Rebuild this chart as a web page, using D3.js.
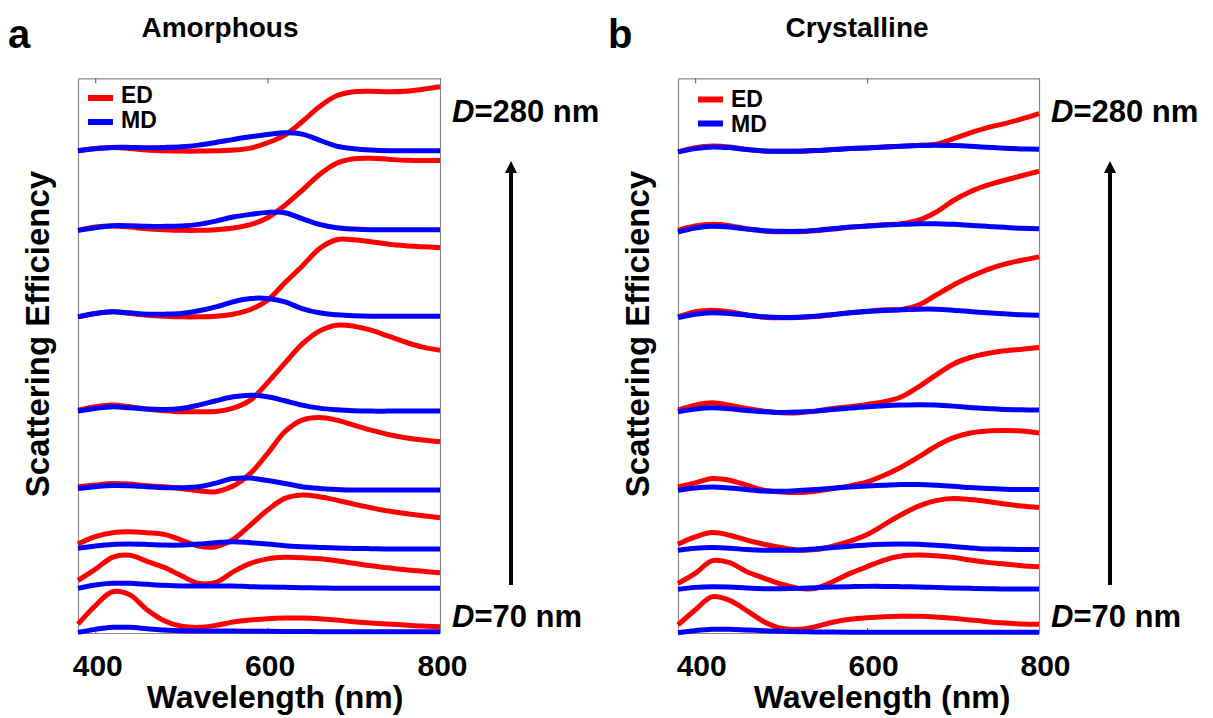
<!DOCTYPE html>
<html><head><meta charset="utf-8">
<script src="https://cdn.jsdelivr.net/npm/d3@7"></script>
<style>
body{margin:0;background:#fff}
svg{display:block}
text{font-family:"Liberation Sans",Arial,Helvetica,sans-serif;font-weight:bold;fill:#000}
</style>
</head><body>
<svg id="chart" width="1213" height="718"></svg>
<script>
// ---------- data ----------
const wavelengths = [380,400,420,440,460,480,500,520,540,560,580,600,620,640,660,680,700,720,740,760,780,800];
const diameters = [70,100,130,160,190,220,250,280];
const xTicks = [400,600,800];
const seriesNames = ["ED","MD"];

// vertical stacking offsets of each D (arbitrary efficiency units)
const offsetsAmorphous  = [0.026,0.894,1.68,2.86,4.44,6.34,8.07,9.65];
const offsetsCrystalline = [0.014,0.88,1.67,2.87,4.46,6.36,8.09,9.68];

// Amorphous, ED (relative to offset), one row per D
const edAmorphous = [
 [0.15,0.52,0.80,0.74,0.44,0.22,0.11,0.087,0.127,0.193,0.233,0.26,0.273,0.273,0.26,0.233,0.20,0.173,0.153,0.133,0.113,0.10],
 [0.16,0.38,0.62,0.66,0.54,0.42,0.25,0.10,0.12,0.33,0.50,0.59,0.62,0.613,0.59,0.55,0.50,0.45,0.41,0.37,0.34,0.31],
 [0.10,0.247,0.327,0.347,0.327,0.293,0.18,0.06,0.047,0.193,0.48,0.78,1.013,1.08,1.047,0.98,0.90,0.827,0.76,0.713,0.667,0.627],
 [0.067,0.10,0.133,0.12,0.087,0.067,0.033,-0.013,-0.033,0.08,0.333,0.733,1.167,1.40,1.453,1.40,1.30,1.20,1.113,1.047,1.00,0.967],
 [0.02,0.087,0.12,0.087,0.04,0.007,-0.013,-0.013,-0.007,0.06,0.22,0.57,0.96,1.34,1.60,1.72,1.70,1.62,1.50,1.38,1.28,1.22],
 [-0.013,0.053,0.087,0.053,0.02,0,-0.013,-0.013,0,0.04,0.133,0.32,0.667,1.0,1.35,1.53,1.53,1.49,1.44,1.41,1.39,1.37],
 [-0.013,0.053,0.073,0.053,0.02,0,-0.013,-0.013,0,0.033,0.10,0.24,0.487,0.787,1.10,1.33,1.42,1.43,1.41,1.39,1.387,1.387],
 [0,0.047,0.067,0.047,0.013,0,-0.007,-0.007,0,0.013,0.053,0.16,0.313,0.58,0.88,1.10,1.18,1.19,1.18,1.19,1.23,1.28]
];
// Amorphous, MD
const mdAmorphous = [
 [-0.013,0.047,0.087,0.087,0.06,0.033,0.02,0.013,0.013,0.013,0.01,0.007,0.005,0.003,0,0,0,0,0,0,0,0],
 [0,0.067,0.10,0.10,0.08,0.06,0.047,0.047,0.047,0.047,0.033,0.027,0.02,0.013,0.007,0,0,0,0,0,0,0],
 [0.013,0.06,0.093,0.10,0.093,0.08,0.08,0.10,0.127,0.147,0.127,0.10,0.067,0.047,0.033,0.02,0.013,0.007,0,0,0,0],
 [0.033,0.067,0.093,0.087,0.067,0.047,0.047,0.067,0.14,0.23,0.24,0.19,0.133,0.067,0.033,0.013,0,0,0,0,0,0],
 [0,0.053,0.087,0.067,0.04,0.033,0.053,0.12,0.207,0.287,0.32,0.287,0.207,0.12,0.06,0.027,0.007,0,0,0,0,0],
 [-0.013,0.053,0.087,0.067,0.04,0.04,0.053,0.107,0.187,0.287,0.353,0.353,0.287,0.153,0.067,0.027,0.007,0,0,0,0,0],
 [-0.013,0.04,0.08,0.08,0.067,0.067,0.073,0.107,0.173,0.253,0.307,0.347,0.34,0.22,0.107,0.04,0.013,0,0,0,0,0],
 [0,0.04,0.067,0.067,0.06,0.067,0.08,0.113,0.167,0.227,0.28,0.327,0.36,0.333,0.213,0.093,0.04,0.013,0,0,0,0]
];
// Crystalline, ED
const edCrystalline = [
 [0.147,0.447,0.713,0.64,0.433,0.213,0.08,0.06,0.113,0.20,0.26,0.293,0.313,0.32,0.32,0.307,0.28,0.247,0.213,0.187,0.167,0.16],
 [0.113,0.313,0.567,0.527,0.347,0.22,0.10,0.013,0.013,0.147,0.313,0.447,0.58,0.66,0.68,0.667,0.633,0.58,0.533,0.50,0.467,0.447],
 [0.107,0.253,0.34,0.287,0.187,0.107,0.04,-0.013,0,0.067,0.167,0.30,0.50,0.70,0.87,0.98,1.02,1.0,0.96,0.91,0.87,0.84],
 [0.053,0.133,0.22,0.187,0.087,-0.013,-0.047,-0.06,-0.033,0.02,0.073,0.153,0.287,0.453,0.653,0.867,1.033,1.133,1.173,1.18,1.173,1.133],
 [0,0.10,0.147,0.10,0.033,-0.02,-0.053,-0.053,-0.02,0.033,0.067,0.113,0.167,0.267,0.467,0.70,0.92,1.053,1.133,1.187,1.22,1.253],
 [-0.033,0.07,0.10,0.067,0.007,-0.04,-0.053,-0.047,-0.027,0.007,0.047,0.08,0.107,0.113,0.20,0.40,0.60,0.767,0.913,1.02,1.10,1.167],
 [-0.033,0.053,0.087,0.06,0,-0.047,-0.06,-0.06,-0.04,-0.007,0.027,0.053,0.08,0.10,0.17,0.33,0.56,0.74,0.87,0.97,1.06,1.15],
 [-0.053,0.033,0.067,0.047,-0.007,-0.033,-0.04,-0.04,-0.027,-0.007,0.013,0.027,0.047,0.06,0.08,0.10,0.207,0.327,0.433,0.513,0.607,0.713]
];
// Crystalline, MD
const mdCrystalline = [
 [-0.007,0.033,0.06,0.06,0.047,0.033,0.02,0.013,0.007,0.007,0.003,0,0,0,0,0,0,0,0,0,0,0],
 [-0.007,0.033,0.047,0.04,0.02,0.007,0.007,0.013,0.027,0.04,0.047,0.053,0.053,0.047,0.04,0.033,0.02,0.013,0.007,0,0,0],
 [-0.013,0.027,0.04,0.027,0,-0.013,-0.013,-0.007,0.013,0.04,0.067,0.093,0.107,0.113,0.107,0.087,0.06,0.033,0.013,0.007,0,0],
 [-0.013,0.033,0.053,0.033,0,-0.027,-0.033,-0.02,0,0.027,0.053,0.073,0.087,0.10,0.10,0.087,0.067,0.04,0.02,0.007,0,0],
 [-0.033,0.02,0.047,0.027,-0.007,-0.033,-0.047,-0.04,-0.02,0.013,0.04,0.067,0.087,0.10,0.107,0.10,0.08,0.053,0.033,0.013,0.007,0],
 [-0.047,0.02,0.047,0.033,0,-0.033,-0.047,-0.04,-0.02,0.013,0.047,0.073,0.093,0.107,0.12,0.12,0.10,0.073,0.047,0.027,0.007,0],
 [-0.067,0.013,0.047,0.033,-0.007,-0.04,-0.053,-0.053,-0.033,0,0.033,0.053,0.073,0.087,0.10,0.10,0.087,0.067,0.047,0.027,0.007,0],
 [-0.053,0.013,0.047,0.033,-0.007,-0.033,-0.04,-0.04,-0.027,-0.007,0.013,0.027,0.047,0.06,0.073,0.08,0.073,0.06,0.04,0.02,0.007,0]
];

// ---------- layout ----------
const colors = {ED:"#ff0000", MD:"#0000ff"};
const plotTop = 78.3, plotBottom = 633;
const panels = [
  {letter:"a", title:"Amorphous", left:78, right:440, ed:edAmorphous, md:mdAmorphous, offsets:offsetsAmorphous,
   titleX:220, xLabelX:275, yLabelX:49, legX:88, legY:98, legTextY:103, tickDx:2},
  {letter:"b", title:"Crystalline", left:678, right:1039, ed:edCrystalline, md:mdCrystalline, offsets:offsetsCrystalline,
   titleX:857, xLabelX:882, yLabelX:649, legX:698, legY:99.5, legTextY:107, tickDx:6}
];

const svg = d3.select("#chart");
const y = d3.scaleLinear().domain([0, 11.1]).range([plotBottom, plotTop]);

panels.forEach(p => {
  const x = d3.scaleLinear().domain([380, 800]).range([p.left, p.right]);
  const g = svg.append("g");

  // box / axes
  const boxColor = "#8a8a8a";
  const bottom = g.append("g").attr("transform", `translate(0,${plotBottom})`)
    .call(d3.axisBottom(x).tickValues(xTicks).tickSizeInner(-5).tickSizeOuter(0).tickPadding(22).tickFormat(d3.format("d")));
  const top = g.append("g").attr("transform", `translate(0,${plotTop})`)
    .call(d3.axisTop(x).tickValues(xTicks).tickSizeInner(-5).tickSizeOuter(0).tickFormat(""));
  const left = g.append("g").attr("transform", `translate(${p.left},0)`)
    .call(d3.axisLeft(y).tickValues([]).tickSizeOuter(0));
  const right = g.append("g").attr("transform", `translate(${p.right},0)`)
    .call(d3.axisRight(y).tickValues([]).tickSizeOuter(0));
  [bottom, top, left, right].forEach(a => {
    a.select(".domain").attr("stroke", boxColor).attr("stroke-width", 1.2);
    a.selectAll(".tick line").attr("stroke", "#555").attr("stroke-width", 1);
  });
  bottom.selectAll(".tick text").attr("font-size", 30).attr("font-family", null).attr("dx", p.tickDx);

  // curves
  const line = d3.line().x((d, i) => x(wavelengths[i])).curve(d3.curveCatmullRom.alpha(0.5));
  diameters.forEach((D, k) => {
    const off = p.offsets[k];
    [["ED", p.ed[k]], ["MD", p.md[k]]].forEach(([name, vals]) => {
      g.append("path")
        .datum(vals)
        .attr("fill", "none")
        .attr("stroke", colors[name])
        .attr("stroke-width", 5)
        .attr("stroke-linejoin", "round")
        .attr("d", line.y(v => y(v + off)));
    });
  });

  // legend
  seriesNames.forEach((name, i) => {
    g.append("line")
      .attr("x1", p.legX).attr("x2", p.legX + 25)
      .attr("y1", p.legY + i * 24).attr("y2", p.legY + i * 24)
      .attr("stroke", colors[name]).attr("stroke-width", 6);
    g.append("text").attr("x", p.legX + 33).attr("y", p.legTextY + i * 24.5)
      .attr("font-size", 23).text(name);
  });

  // titles
  g.append("text").attr("x", p.titleX).attr("y", 37).attr("text-anchor", "middle")
    .attr("font-size", 28).text(p.title);
  g.append("text").attr("x", p.left - 70).attr("y", 48).attr("font-size", 40).text(p.letter);

  // axis labels
  g.append("text").attr("x", p.xLabelX).attr("y", 708).attr("text-anchor", "middle")
    .attr("font-size", 32).text("Wavelength (nm)");
  g.append("text").attr("transform", `translate(${p.yLabelX},334) rotate(-90)`)
    .attr("text-anchor", "middle").attr("font-size", 33).text("Scattering Efficiency");

  // D labels
  const dTop = g.append("text").attr("x", p.right + 12).attr("y", 122).attr("font-size", 31);
  dTop.append("tspan").attr("font-style", "italic").text("D");
  dTop.append("tspan").text("=" + diameters[diameters.length - 1] + " nm");
  const dBot = g.append("text").attr("x", p.right + 12).attr("y", 627).attr("font-size", 31);
  dBot.append("tspan").attr("font-style", "italic").text("D");
  dBot.append("tspan").text("=" + diameters[0] + " nm");

  // arrow
  const ax = p.right + 71;
  g.append("line").attr("x1", ax).attr("x2", ax).attr("y1", 585).attr("y2", 170)
    .attr("stroke", "#000").attr("stroke-width", 4);
  g.append("path").attr("d", `M${ax},161 L${ax - 6},173 L${ax + 6},173 Z`).attr("fill", "#000");
});
</script>
</body></html>
